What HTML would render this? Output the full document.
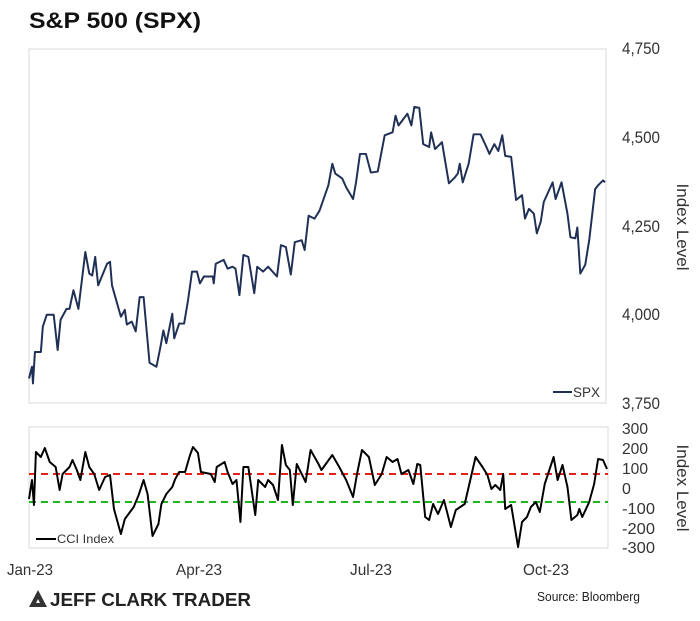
<!DOCTYPE html>
<html><head><meta charset="utf-8"><style>
html,body{margin:0;padding:0;background:#fff;}
svg{display:block;font-family:"Liberation Sans",Arial,sans-serif;}
</style></head><body>
<svg width="700" height="621" viewBox="0 0 700 621" xmlns="http://www.w3.org/2000/svg">
<text x="29" y="28" font-size="22" font-weight="bold" fill="#111" textLength="172" lengthAdjust="spacingAndGlyphs">S&amp;P 500 (SPX)</text>
<rect x="29" y="49" width="577" height="354" fill="#fff" stroke="#d9d9d9" stroke-width="1"/>
<g font-size="17" fill="#333" text-anchor="start">
<text x="622" y="54" textLength="38" lengthAdjust="spacingAndGlyphs">4,750</text>
<text x="622" y="143" textLength="38" lengthAdjust="spacingAndGlyphs">4,500</text>
<text x="622" y="232" textLength="38" lengthAdjust="spacingAndGlyphs">4,250</text>
<text x="622" y="320" textLength="38" lengthAdjust="spacingAndGlyphs">4,000</text>
<text x="622" y="409" textLength="38" lengthAdjust="spacingAndGlyphs">3,750</text>
</g>
<text transform="translate(677,227) rotate(90)" font-size="17" fill="#333" text-anchor="middle">Index Level</text>
<g transform="matrix(0.988 0 0 0.9806 0.35 0.95)">
<polyline fill="none" stroke="#1f2f55" stroke-width="2" stroke-linejoin="round" points="29,385 32,373 33,390 35,358 41,358 43,332 47,320 54,320 58,356 61,325 67,314 70,314 74,295 79,314 86,256 90,278 93,280 96,261 99,290 108,268 111,266 113,290 122,322 126,315 128,330 133,327 137,337 141,302 145,302 151,369 158,373 162,353 165,336 168,349 174,319 176,344 181,329 186,329 190,305 194,276 199,276 202,288 206,281 215,281 216,288 218,268 226,264 230,273 235,271 238,273 242,300 246,259 251,261 257,298 260,271 266,276 271,271 280,281 284,249 289,251 294,279 298,246 305,244 308,254 312,219 318,222 323,214 332,188 336,166 339,176 346,181 350,190 357,202 360,185 364,156 370,156 375,175 382,174 389,137 397,134 400,117 403,127 409,119 412,115 416,127 419,108 424,109 428,146 434,149 436,134 440,151 447,144 454,186 460,180 463,176 465,166 468,185 474,166 479,136 486,136 492,149 495,156 500,146 504,153 508,137 511,158 517,159 522,203 528,198 531,222 535,212 540,217 543,237 547,225 550,205 559,185 562,202 568,185 574,217 577,241 582,242 584,231 587,278 592,269 596,244 602,192 605,188 610,183 612,185"/>
</g>
<line x1="553" y1="392" x2="572" y2="392" stroke="#1f2f55" stroke-width="2"/>
<text x="573" y="397" font-size="14" fill="#333" textLength="27" lengthAdjust="spacingAndGlyphs">SPX</text>

<rect x="29" y="427" width="579" height="121" fill="#fff" stroke="#d9d9d9" stroke-width="1"/>
<line x1="29" y1="474" x2="608" y2="474" stroke="#e8211a" stroke-width="2" stroke-dasharray="7,5"/>
<line x1="29" y1="502" x2="608" y2="502" stroke="#1fb51f" stroke-width="2" stroke-dasharray="7,5"/>
<g transform="matrix(0.988 0 0 1 0.35 0)">
<polyline fill="none" stroke="#000" stroke-width="2" stroke-linejoin="round" points="29,499 32,480 34,505 36,452 41,457 45,448 50,462 56,467 60,490 63,474 70,467 73,460 77,469 81,480 86,452 90,467 95,474 100,490 106,477 111,475 115,509 122,534 126,519 135,507 140,495 145,480 149,494 154,536 160,524 163,504 168,494 174,487 177,479 181,472 187,472 192,455 195,447 200,453 203,472 213,474 217,482 219,467 227,462 230,472 235,484 239,480 243,522 246,467 251,467 258,515 261,480 268,487 271,480 276,485 281,500 285,445 289,465 293,470 296,505 300,464 305,474 309,482 314,450 322,464 325,470 336,455 343,467 350,480 357,497 361,474 366,450 373,457 379,485 386,474 391,457 397,462 402,459 406,474 413,470 418,484 422,464 425,465 430,517 434,520 438,504 443,514 449,500 456,527 461,510 470,504 474,487 481,457 488,467 493,475 497,489 501,485 506,490 509,474 511,509 517,505 524,547 528,522 533,517 537,507 542,502 546,512 551,484 560,457 564,480 569,465 574,487 578,520 584,515 586,509 589,517 596,502 601,484 605,459 610,460 614,469"/>
</g>
<line x1="36" y1="539" x2="56" y2="539" stroke="#000" stroke-width="2"/>
<text x="57" y="543" font-size="12" fill="#333" textLength="57" lengthAdjust="spacingAndGlyphs">CCI Index</text>
<g font-size="16" fill="#333" text-anchor="start">
<text x="622" y="434" textLength="26" lengthAdjust="spacingAndGlyphs">300</text>
<text x="622" y="454" textLength="26" lengthAdjust="spacingAndGlyphs">200</text>
<text x="622" y="474" textLength="26" lengthAdjust="spacingAndGlyphs">100</text>
<text x="622" y="494">0</text>
<text x="622" y="514" textLength="33" lengthAdjust="spacingAndGlyphs">-100</text>
<text x="622" y="534" textLength="33" lengthAdjust="spacingAndGlyphs">-200</text>
<text x="622" y="553" textLength="33" lengthAdjust="spacingAndGlyphs">-300</text>
</g>
<text transform="translate(677,488) rotate(90)" font-size="17" fill="#333" text-anchor="middle">Index Level</text>
<g font-size="16" fill="#333" text-anchor="middle">
<text x="30" y="575" textLength="46" lengthAdjust="spacingAndGlyphs">Jan-23</text>
<text x="199" y="575" textLength="46" lengthAdjust="spacingAndGlyphs">Apr-23</text>
<text x="371" y="575" textLength="42" lengthAdjust="spacingAndGlyphs">Jul-23</text>
<text x="546" y="575" textLength="46" lengthAdjust="spacingAndGlyphs">Oct-23</text>
</g>
<polygon points="29,607 38,590 47,607" fill="#333"/>
<polygon points="36,603 38,599 40,603" fill="#fff"/>
<text x="50" y="606" font-size="18" font-weight="bold" fill="#222" textLength="201" lengthAdjust="spacingAndGlyphs">JEFF CLARK TRADER</text>
<text x="640" y="601" font-size="13" fill="#222" text-anchor="end" textLength="103" lengthAdjust="spacingAndGlyphs">Source: Bloomberg</text>
</svg>
</body></html>
